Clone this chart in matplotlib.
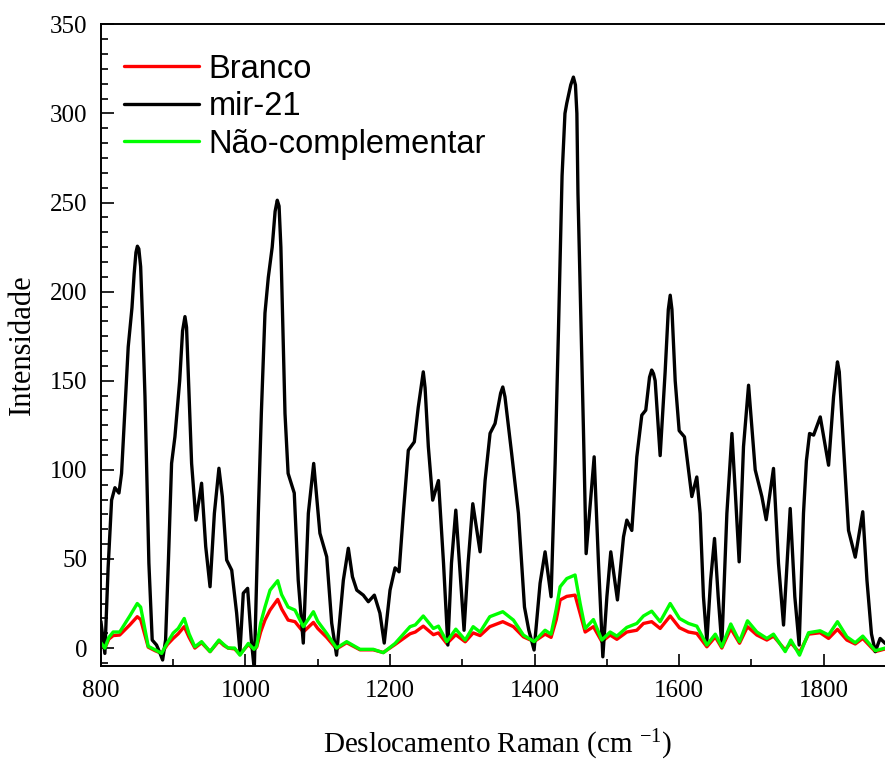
import numpy as np
import matplotlib
matplotlib.use("Agg")
import matplotlib.pyplot as plt
from matplotlib.ticker import MultipleLocator

## spectra (Raman shift in cm-1, intensity)
mir21_x = [800, 805.5, 810, 814.8, 819.4, 825, 828.6, 833, 837.8, 843, 846, 848.5, 850.5, 852.5,
           855, 858, 861, 866.4,
           871, 877, 881.7, 885.4, 889.5, 893.5, 897.8, 902.4, 909, 913, 916.3, 918.5, 920.5,
           925.5, 931.5,
           939.3, 945, 951, 957, 963.3, 968, 974, 981, 987.8, 992.4, 997, 1003, 1008, 1012.2,
           1017.8, 1022, 1027, 1031.6, 1037, 1041, 1044, 1046.5, 1049, 1054.7, 1059, 1067.5,
           1073, 1080,
           1087, 1094.4, 1103, 1112.4, 1119.3, 1126, 1135.4, 1142.3, 1148, 1154, 1163, 1170,
           1178.3, 1186, 1192, 1200, 1207, 1212.5, 1218.4, 1225.3, 1233.6, 1239, 1243.5, 1246,
           1248.5, 1253,
           1259, 1267, 1274, 1280, 1285, 1291, 1296, 1302.4, 1308, 1314.5, 1324.6, 1331.5,
           1338.4, 1345.3, 1353, 1356, 1359, 1368.3, 1377.6, 1386, 1392, 1399.3, 1407.6, 1414.5,
           1422.8, 1428.4, 1433, 1438, 1442, 1444.5, 1450, 1453.7, 1456.5, 1458.5, 1460, 1464.4,
           1467.6, 1471.3,
           1482.4, 1488.4, 1494.4, 1500, 1505.4, 1514.6, 1523, 1527.6, 1534.5, 1541.4, 1548.3,
           1553.8, 1559, 1562, 1564.5, 1566.8, 1573.7, 1580.6, 1585, 1587.6, 1590, 1594.5, 1600,
           1607.3, 1612.9, 1617.5,
           1624.4, 1629, 1633.6, 1638.3, 1643.5, 1648.9, 1654, 1659, 1666, 1673, 1678, 1683,
           1689, 1696, 1705.2, 1714.4, 1720.4, 1730.5, 1737.4, 1744.4, 1753.6, 1760, 1766,
           1772, 1776, 1780.4, 1786, 1795.2, 1806.7, 1813.6, 1816.5, 1819, 1821.5, 1827.4,
           1834.3, 1843.6,
           1854, 1859.8, 1866, 1871.3, 1878, 1885]
mir21_y = [15, -3, 45, 83, 90, 87, 98, 132, 169, 191, 210, 222, 225.5, 224,
           214, 180, 141, 47.6,
           4.5, 1.7, -2.8, -6.7, 4.5, 50, 103.6, 118.5, 150, 178, 186, 180, 158,
           103.6, 71.8,
           92.5, 57, 34.4, 75.6, 100.9, 85, 49.4, 43.7, 19.6, -2, 30.8, 33.5, 5, -12,
           75.6, 132, 188, 208, 225, 245, 251.3, 248, 225, 131.6, 98, 87,
           38, 2.8,
           75.6, 103.6, 64.4, 51.2, 14, -4, 38, 56, 40, 32.5, 29.7, 26,
           29.7, 19.6, 2.8, 32.5, 45, 42.8, 75.6, 111, 115.7, 135, 148, 155,
           146, 113,
           83, 94, 47.6, 1.7, 47.6, 77.4, 47.6, 10, 47.6, 81, 54, 94,
           120.5, 126, 143, 146.5, 141, 109, 75.6, 23, 10, -1.1, 36.4, 54,
           28.8, 103.6, 178, 265, 300, 305.7, 316, 320.4, 316, 300, 255, 178,
           122, 53,
           107.3, 47.6, -4.9, 28.8, 54, 27, 62.4, 71.8, 66, 107.3, 130.7,
           133.5, 152, 156, 154, 150, 108, 155, 190, 198, 190, 150, 122,
           118.5, 100, 85,
           96, 75.5, 28.8, 3.6, 38, 61.5, 28.8, 1.7, 75.5, 120.4, 85, 48.4,
           113, 147.5, 100, 85, 72, 100.8, 47.5, 12.9, 78.3, 28.8, 1.7,
           75.6, 105, 120.4, 119.5, 129.7, 102.6, 141, 152, 160.6, 155, 113,
           66, 51,
           76.5, 38, 8, -2, 5.4, 2.6]

ctrl_x = [800, 805.5, 811, 817, 826, 840, 850.3, 855, 865.5, 875, 884, 892, 900, 907, 915.3,
          922, 930, 939.3, 951, 963.3, 970, 976, 985, 992.4, 1004, 1011.8, 1015.5, 1021, 1027,
          1034, 1044.6, 1050, 1059, 1068.5, 1080, 1094, 1100, 1112.4, 1126, 1140, 1158.5,
          1176.8, 1190.7, 1207, 1227.7, 1235, 1246, 1260, 1267, 1278.5, 1291, 1304, 1315,
          1324.6, 1338, 1356, 1370.7, 1384.5, 1399.3, 1414.5, 1422.8, 1430, 1435.3, 1444.5,
          1456, 1463, 1470, 1481.4, 1493, 1504.5, 1513.8, 1527.6, 1541.4, 1550.6, 1562,
          1573.7, 1587.6, 1600.4, 1612.9, 1624.4, 1638.3, 1650, 1659, 1671.4, 1683.5, 1694.5,
          1707.5, 1721.3, 1730.5, 1746.7, 1754.5, 1766.5, 1779, 1795, 1806.7, 1819, 1832,
          1843.6, 1854, 1871.3, 1885]
branco_y = [2, 0, 5, 7, 7.3, 13, 17.6, 16, 0.5, -1.5, -3, 2, 5.4, 8, 12,
            6, 0, 3, -2, 4, 1.5, 0, -0.5, -3.5, 2, -1, 0.5, 9, 15.7,
            21.3, 27.3, 22, 15.7, 14.8, 9, 14.4, 11, 6, -0.5, 3, -1,
            -1, -2.5, 2, 8, 9, 12.3, 7.5, 8.5, 2.5, 7.5, 3.5, 8.5,
            7, 12, 14.8, 12, 6.3, 3.6, 7.8, 6, 16, 27, 29,
            29.7, 19.4, 9, 12, 3.6, 7.3, 4.9, 9, 10, 13.8, 14.8,
            11, 18, 11.4, 9, 8.2, 0.7, 6.3, 0, 11, 2.7, 12,
            7.3, 4.5, 6.7, -1.1, 3, -2.6, 7.8, 8.6, 5.4, 10.5, 4.5,
            2.3, 5.4, -2, -0.5]
naocomp_y = [3, 0, 6, 9, 9, 18, 25, 23, 1, -1, -3, 3, 8.4, 11, 16.6,
             8, 0.7, 3.6, -2, 4.5, 2, 0, 0, -4, 2.6, -0.7, 1, 14, 23,
             32.5, 37.8, 30, 23, 21.3, 12, 20.4, 15, 8.2, 0, 3.6, -0.7,
             -0.7, -2.6, 2.6, 12, 13, 18, 11, 12.3, 3.6, 10.6, 4.5, 12,
             9, 17.6, 20.4, 15.7, 7.3, 3.6, 10, 7.8, 22, 34.4, 39,
             41, 25, 11, 16, 4.5, 9, 6.7, 11.6, 13.8, 18, 20.7,
             14.8, 25, 16.6, 13.8, 12.3, 1.7, 7.8, 0.7, 13.5, 3.6, 15.3,
             9, 5.4, 7.8, -2, 4.5, -4, 8.6, 9.7, 7.3, 14.8, 6.3,
             3, 6.7, -1.5, 0]

plt.rcParams['mathtext.default'] = 'regular'
serif = 'Liberation Serif'

fig = plt.figure(figsize=(8.85, 7.61), dpi=100)
# right spine lies past the figure edge
ax = fig.add_axes([0.114, 0.125, 0.896, 0.843])

lw = 2.4
style = dict(lw=lw, solid_joinstyle='round', solid_capstyle='round')
ax.plot(ctrl_x, branco_y, color='#ff0000', label='Branco', **style)
ax.plot(mir21_x, mir21_y, color='black', label='mir-21', **style)
ax.plot(ctrl_x, naocomp_y, color='#00ff00', label='Não-complementar', **style)

ax.set_xlim(800, 1897)
ax.set_ylim(-10, 350)
ax.xaxis.set_major_locator(MultipleLocator(200))
ax.xaxis.set_minor_locator(MultipleLocator(100))
ax.yaxis.set_major_locator(MultipleLocator(50))
ax.yaxis.set_minor_locator(MultipleLocator(50 / 6))
ax.tick_params(which='both', direction='in', width=1.2, top=False, right=False)
ax.tick_params(which='major', length=9, labelsize=18, pad=10)
ax.tick_params(which='minor', length=5)
for lab in ax.get_xticklabels() + ax.get_yticklabels():
    lab.set_fontfamily(serif)
for s in ax.spines.values():
    s.set_linewidth(1.4)
ax.spines['right'].set_visible(False)

ax.set_xlabel('Deslocamento Raman (cm $^{-1}$)', fontsize=21, family=serif, labelpad=19)
ax.set_ylabel('Intensidade', fontsize=22, family=serif, labelpad=9)

ax.legend(loc='upper left', bbox_to_anchor=(0.0, 0.99), frameon=False,
          prop={'family': 'Liberation Sans', 'size': 23.5}, handlelength=2.3,
          handletextpad=0.3, labelspacing=0.2, borderaxespad=0.3)

fig.savefig('out.png', dpi=100)
